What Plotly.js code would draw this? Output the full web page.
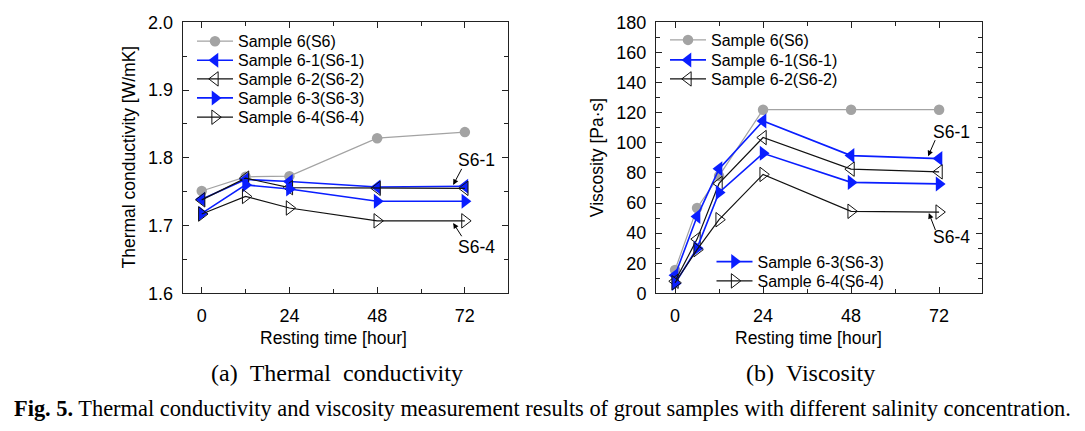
<!DOCTYPE html>
<html>
<head>
<meta charset="utf-8">
<script src="https://cdn.plot.ly/plotly-3.0.1.min.js"></script>
<style>html,body{margin:0;padding:0;background:#fff;}#chart{width:1085px;height:431px;}</style>
</head>
<body>
<div id="chart"></div>
<script>
// Thermal conductivity (W/mK) vs resting time (hour)
const hoursTC = [0, 12, 24, 48, 72];
const tcS6  = [1.751, 1.772, 1.773, 1.829, 1.838];
const tcS61 = [1.739, 1.768, 1.765, 1.757, 1.758];
const tcS62 = [1.738, 1.770, 1.756, 1.755, 1.755];
const tcS63 = [1.718, 1.760, 1.754, 1.736, 1.736];
const tcS64 = [1.717, 1.743, 1.726, 1.707, 1.707];

// Viscosity (Pa·s) vs resting time (hour)
const hoursV = [0, 6, 12, 24, 48, 72];
const vS6  = [15.5, 56.7, 78, 122, 122, 122];
const vS61 = [12, 51, 82.7, 114.5, 91.5, 89.5];
const vS62 = [8, 36, 73, 103.5, 82.5, 80.7];
const vS63 = [6.5, 30, 67, 93, 73.7, 72.7];
const vS64 = [7, 29, 48.9, 79, 54.5, 54];

const seriesNames = ['Sample 6(S6)', 'Sample 6-1(S6-1)', 'Sample 6-2(S6-2)', 'Sample 6-3(S6-3)', 'Sample 6-4(S6-4)'];
const xTickVals = [0, 24, 48, 72];

const BLUE = '#0a1eff';
const GRAY = '#a3a3a3';
const BLACK = '#111111';

const styles = [
  {line: {color: GRAY, width: 1.2}, marker: {symbol: 'circle', size: 10.5, color: GRAY}},
  {line: {color: BLUE, width: 1.6}, marker: {symbol: 'triangle-left', size: 13, color: BLUE}},
  {line: {color: BLACK, width: 1.2}, marker: {symbol: 'triangle-left-open', size: 12.5, color: BLACK, line: {width: 1}}},
  {line: {color: BLUE, width: 1.6}, marker: {symbol: 'triangle-right', size: 13, color: BLUE}},
  {line: {color: BLACK, width: 1.2}, marker: {symbol: 'triangle-right-open', size: 12.5, color: BLACK, line: {width: 1}}}
];

const tcSeries = [tcS6, tcS61, tcS62, tcS63, tcS64];
const vSeries = [vS6, vS61, vS62, vS63, vS64];

// one legend per entry so that row spacing can follow the reference
const legendIdLeft = ['legend', 'legend2', 'legend3', 'legend4', 'legend5'];
const legendIdRight = ['legend6', 'legend7', 'legend8', 'legend9', 'legend10'];

const traces = [];
tcSeries.forEach((ys, i) => {
  traces.push(Object.assign({
    type: 'scatter', mode: 'lines+markers', x: hoursTC, y: ys, name: seriesNames[i],
    xaxis: 'x', yaxis: 'y', legend: legendIdLeft[i], cliponaxis: false
  }, styles[i]));
});
vSeries.forEach((ys, i) => {
  traces.push(Object.assign({
    type: 'scatter', mode: 'lines+markers', x: hoursV, y: ys, name: seriesNames[i],
    xaxis: 'x2', yaxis: 'y2', legend: legendIdRight[i], cliponaxis: false
  }, styles[i]));
});

const FONT = 'Liberation Sans, Arial, sans-serif';
const SERIF = 'Liberation Serif, Times New Roman, serif';

function xAxis(domain, anchor) {
  return {
    domain: domain, anchor: anchor, range: [-5.2, 83.8],
    tickmode: 'array', tickvals: xTickVals, ticktext: xTickVals.map(String),
    ticks: 'inside', ticklen: 6, tickwidth: 1, tickcolor: '#222',
    minor: {tickmode: 'array', tickvals: [12, 36, 60], ticks: 'inside', ticklen: 4, tickcolor: '#222'},
    showline: true, linecolor: '#222', linewidth: 1, mirror: 'allticks',
    showgrid: false, zeroline: false, ticklabelstandoff: 6,
    tickfont: {family: FONT, size: 18, color: '#000'}
  };
}
function yAxis(domain, anchor, range, dtick, minorDtick, fmt) {
  return {
    domain: domain, anchor: anchor, range: range, dtick: dtick, tick0: range[0], tickformat: fmt,
    ticks: 'inside', ticklen: 6, tickwidth: 1, tickcolor: '#222',
    minor: {dtick: minorDtick, tick0: range[0], ticks: 'inside', ticklen: 4, tickcolor: '#222'},
    showline: true, linecolor: '#222', linewidth: 1, mirror: 'allticks',
    showgrid: false, zeroline: false, ticklabelstandoff: 5,
    tickfont: {family: FONT, size: 18, color: '#000'}
  };
}

const yDom = [0.3195, 0.948];

function legendAt(xPx, yPx) {
  return {
    x: xPx / 1085, y: 1 - yPx / 431, xanchor: 'left', yanchor: 'middle',
    font: {family: FONT, size: 16, color: '#000'}, bgcolor: 'rgba(0,0,0,0)',
    itemwidth: 36, tracegroupgap: 0, itemclick: false
  };
}

function label(x, y, text, size, family, angle) {
  return {xref: 'paper', yref: 'paper', x: x / 1085, y: 1 - y / 431, text: text, showarrow: false,
    xanchor: 'center', yanchor: 'middle', textangle: angle || 0,
    font: {family: family, size: size, color: '#000'}};
}
// text label next to a data point, offset in pixels
function dataLabel(xr, yr, x, y, dx, dy, text) {
  return {xref: xr, yref: yr, x: x, y: y, xshift: dx, yshift: dy, text: text, showarrow: false,
    xanchor: 'center', yanchor: 'middle', font: {family: FONT, size: 17.5, color: '#000'}};
}
// pointer arrow: head at data point, tail offset (ax, ay) in pixels
function pointer(xr, yr, x, y, ax, ay) {
  return {xref: xr, yref: yr, x: x, y: y, ax: ax, ay: ay, text: ' ', showarrow: true,
    arrowhead: 2, arrowsize: 1.1, arrowwidth: 1, arrowcolor: '#000', standoff: 0,
    font: {family: FONT, size: 1, color: '#000'}, borderpad: 0};
}

const layout = {
  width: 1085, height: 431,
  margin: {l: 0, r: 0, t: 0, b: 0},
  paper_bgcolor: '#fff', plot_bgcolor: '#fff',
  showlegend: true,
  xaxis: xAxis([0.1684, 0.4682], 'y'),
  yaxis: yAxis(yDom, 'x', [1.6, 2.0], 0.1, 0.05, '.1f'),
  xaxis2: xAxis([0.6046, 0.9054], 'y2'),
  yaxis2: yAxis(yDom, 'x2', [0, 180], 20, 10, 'd'),
  legend: legendAt(192, 41.3),
  legend2: legendAt(192, 60.3),
  legend3: legendAt(192, 79),
  legend4: legendAt(192, 98),
  legend5: legendAt(192, 117.3),
  legend6: legendAt(665, 40),
  legend7: legendAt(665, 60),
  legend8: legendAt(665, 79),
  legend9: legendAt(711.5, 261.7),
  legend10: legendAt(711.5, 281),
  annotations: [
    label(333, 338, 'Resting time [hour]', 17.5, FONT),
    label(128, 157.5, 'Thermal conductivity [W/mK]', 17.5, FONT, -90),
    label(808, 338, 'Resting time [hour]', 17.5, FONT),
    label(596.7, 157.5, 'Viscosity [Pa·s]', 17.5, FONT, -90),
    // left panel labels
    dataLabel('x', 'y', 68.8, 1.760, 23, 25, 'S6-1'),
    pointer('x', 'y', 68.8, 1.760, 9, -17),
    dataLabel('x', 'y', 68.8, 1.7038, 23, -24, 'S6-4'),
    pointer('x', 'y', 68.8, 1.7038, 9, 14),
    // right panel labels
    dataLabel('x2', 'y2', 69.0, 91.1, 23, 24, 'S6-1'),
    pointer('x2', 'y2', 69.0, 91.1, 7.5, -17),
    dataLabel('x2', 'y2', 69.2, 53.3, 23, -24, 'S6-4'),
    pointer('x2', 'y2', 69.2, 53.3, 7, 18),
    label(336.5, 373, '(a)\u00a0\u00a0Thermal\u00a0\u00a0conductivity', 24, SERIF),
    label(810, 373, '(b)\u00a0\u00a0Viscosity', 24, SERIF),
    label(542, 408, '<b>Fig. 5.</b> Thermal conductivity and viscosity measurement results of grout samples with different salinity concentration.', 22.4, SERIF)
  ]
};

Plotly.newPlot('chart', traces, layout, {displayModeBar: false, staticPlot: true});
</script>
</body>
</html>
